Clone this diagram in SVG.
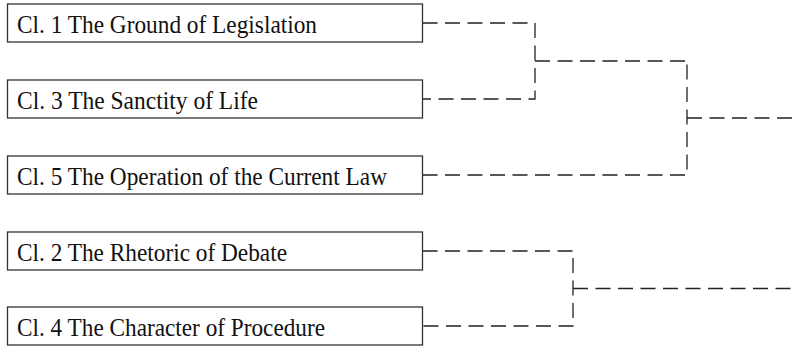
<svg xmlns="http://www.w3.org/2000/svg" width="793" height="346" viewBox="0 0 793 346">
<style>
.box{fill:#fff;stroke:#333;stroke-width:1.3}
.lbl{font-family:"Liberation Serif","Times New Roman",serif;font-size:26px;fill:#111}
.con{fill:none;stroke:#222;stroke-width:1.3;stroke-dasharray:15 7.5}
</style>
<rect width="793" height="346" fill="#fff"/>
<g id="connectors">
<path class="con" d="M422.5,23 H535 V99 H422.5"/>
<path class="con" d="M535,61 H687"/>
<path class="con" d="M422.5,175 H687 V61"/>
<path class="con" d="M687,118 H793"/>
<path class="con" d="M422.5,251 H573 V326 H422.5"/>
<path class="con" d="M573,288.5 H793"/>
</g>
<g id="n1"><rect class="box" x="7.5" y="4" width="415" height="38"/><text class="lbl" x="17" y="33" textLength="300" lengthAdjust="spacingAndGlyphs">Cl. 1 The Ground of Legislation</text></g>
<g id="n3"><rect class="box" x="7.5" y="80" width="415" height="38"/><text class="lbl" x="17" y="109" textLength="241" lengthAdjust="spacingAndGlyphs">Cl. 3 The Sanctity of Life</text></g>
<g id="n5"><rect class="box" x="7.5" y="156" width="415" height="38"/><text class="lbl" x="17" y="185" textLength="370" lengthAdjust="spacingAndGlyphs">Cl. 5 The Operation of the Current Law</text></g>
<g id="n2"><rect class="box" x="7.5" y="232" width="415" height="38"/><text class="lbl" x="17" y="261" textLength="270" lengthAdjust="spacingAndGlyphs">Cl. 2 The Rhetoric of Debate</text></g>
<g id="n4"><rect class="box" x="7.5" y="307" width="415" height="38"/><text class="lbl" x="17" y="336" textLength="308" lengthAdjust="spacingAndGlyphs">Cl. 4 The Character of Procedure</text></g>
</svg>
